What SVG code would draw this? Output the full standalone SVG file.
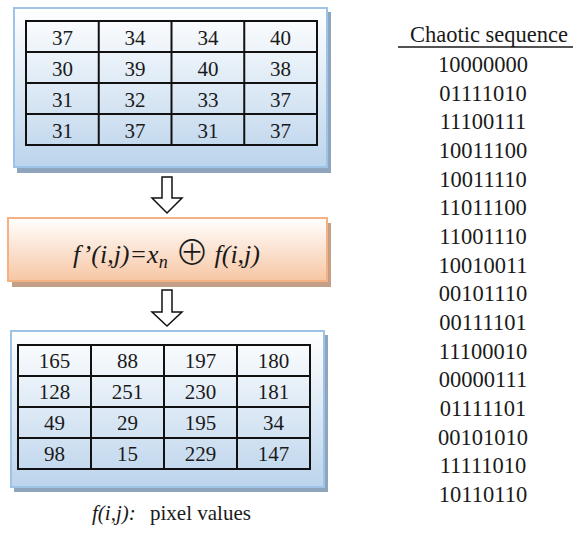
<svg xmlns="http://www.w3.org/2000/svg" width="579" height="534" viewBox="0 0 579 534">
<defs>
<linearGradient id="gBlue" x1="0" y1="0" x2="0" y2="1">
<stop offset="0" stop-color="#ffffff"/>
<stop offset="1" stop-color="#bcd4ec"/>
</linearGradient>
<linearGradient id="gOrange" x1="0" y1="0" x2="0" y2="1">
<stop offset="0" stop-color="#ffffff"/>
<stop offset="1" stop-color="#f7c6a3"/>
</linearGradient>
<style>
text{font-family:'Times New Roman','Liberation Serif',Tinos,'Noto Serif','DejaVu Serif','Nimbus Roman','FreeSerif',Times,serif;fill:#1a1a1a}
.num{font-size:21px;text-anchor:middle}
.seq{font-size:22.5px;text-anchor:middle}
.grid{fill:none;stroke:#111;stroke-width:2}
.bbox{fill:url(#gBlue);stroke:#9dc3e6;stroke-width:2}
.bshadow{fill:#8fa5bd}
.arrow{fill:#fff;stroke:#111;stroke-width:1.5;stroke-linejoin:miter}
.it{font-style:italic}
.sym{font-family:'Noto Sans CJK JP','DejaVu Sans',sans-serif;font-weight:300}
</style>
</defs>

<g id="input-block">
<rect class="bshadow" x="17" y="12" width="314" height="161"/>
<rect class="bbox" x="14" y="8" width="313" height="159"/>
<g class="grid">
<rect x="26" y="21" width="291" height="124"/>
<line x1="98.75" y1="21" x2="98.75" y2="145"/>
<line x1="171.5" y1="21" x2="171.5" y2="145"/>
<line x1="244.25" y1="21" x2="244.25" y2="145"/>
<line x1="26" y1="52" x2="317" y2="52"/>
<line x1="26" y1="83" x2="317" y2="83"/>
<line x1="26" y1="114" x2="317" y2="114"/>
</g>
<g>
<text class="num" x="62.4" y="44.5">37</text><text class="num" x="135.1" y="44.5">34</text><text class="num" x="207.9" y="44.5">34</text><text class="num" x="280.6" y="44.5">40</text>
<text class="num" x="62.4" y="75.5">30</text><text class="num" x="135.1" y="75.5">39</text><text class="num" x="207.9" y="75.5">40</text><text class="num" x="280.6" y="75.5">38</text>
<text class="num" x="62.4" y="106.5">31</text><text class="num" x="135.1" y="106.5">32</text><text class="num" x="207.9" y="106.5">33</text><text class="num" x="280.6" y="106.5">37</text>
<text class="num" x="62.4" y="137.5">31</text><text class="num" x="135.1" y="137.5">37</text><text class="num" x="207.9" y="137.5">31</text><text class="num" x="280.6" y="137.5">37</text>
</g>
</g>

<g id="xor-block">
<rect x="12" y="223" width="319" height="64" fill="#c5a088"/>
<rect x="8" y="218" width="319" height="63" fill="url(#gOrange)" stroke="#f4b183" stroke-width="2"/>
<text y="263" font-size="26"><tspan class="it" x="73">f’(i,j)=x</tspan><tspan class="it" font-size="18" dy="5">n</tspan><tspan class="sym" x="175" dy="-3" font-size="34">⊕</tspan><tspan class="it" x="208" dy="-2"> f(i,j)</tspan></text>
</g>

<g id="output-block">
<rect class="bshadow" x="14" y="335" width="314" height="157"/>
<rect class="bbox" x="11" y="331" width="313" height="156"/>
<g class="grid">
<rect x="18" y="345" width="292" height="124"/>
<line x1="91" y1="345" x2="91" y2="469"/>
<line x1="164" y1="345" x2="164" y2="469"/>
<line x1="237" y1="345" x2="237" y2="469"/>
<line x1="18" y1="376" x2="310" y2="376"/>
<line x1="18" y1="407" x2="310" y2="407"/>
<line x1="18" y1="438" x2="310" y2="438"/>
</g>
<g>
<text class="num" x="54.5" y="367.5">165</text><text class="num" x="127.5" y="367.5">88</text><text class="num" x="200.5" y="367.5">197</text><text class="num" x="273.5" y="367.5">180</text>
<text class="num" x="54.5" y="398.5">128</text><text class="num" x="127.5" y="398.5">251</text><text class="num" x="200.5" y="398.5">230</text><text class="num" x="273.5" y="398.5">181</text>
<text class="num" x="54.5" y="429.5">49</text><text class="num" x="127.5" y="429.5">29</text><text class="num" x="200.5" y="429.5">195</text><text class="num" x="273.5" y="429.5">34</text>
<text class="num" x="54.5" y="460.5">98</text><text class="num" x="127.5" y="460.5">15</text><text class="num" x="200.5" y="460.5">229</text><text class="num" x="273.5" y="460.5">147</text>
</g>
</g>

<g id="caption">
<text y="520" font-size="21"><tspan class="it" x="92">f(i,j):</tspan><tspan x="150">pixel values</tspan></text>
</g>

<g id="chaotic-sequence">
<text x="489" y="42" class="seq">Chaotic sequence</text>
<line x1="398" y1="47" x2="573" y2="47" stroke="#1a1a1a" stroke-width="1.3"/>
<text x="483" y="72" class="seq">10000000</text>
<text x="483" y="100.7" class="seq">01111010</text>
<text x="483" y="129.3" class="seq">11100111</text>
<text x="483" y="158" class="seq">10011100</text>
<text x="483" y="186.7" class="seq">10011110</text>
<text x="483" y="215.3" class="seq">11011100</text>
<text x="483" y="244" class="seq">11001110</text>
<text x="483" y="272.7" class="seq">10010011</text>
<text x="483" y="301.3" class="seq">00101110</text>
<text x="483" y="330" class="seq">00111101</text>
<text x="483" y="358.7" class="seq">11100010</text>
<text x="483" y="387.3" class="seq">00000111</text>
<text x="483" y="416" class="seq">01111101</text>
<text x="483" y="444.7" class="seq">00101010</text>
<text x="483" y="473.3" class="seq">11111010</text>
<text x="483" y="502" class="seq">10110110</text>
</g>

<g id="connectors">
<path class="arrow" d="M162,177 H172 V198 H182 L167,213 L152,198 H162 Z"/>
<path class="arrow" d="M162,290 H172 V312 H182 L167,326 L152,312 H162 Z"/>
</g>
</svg>
